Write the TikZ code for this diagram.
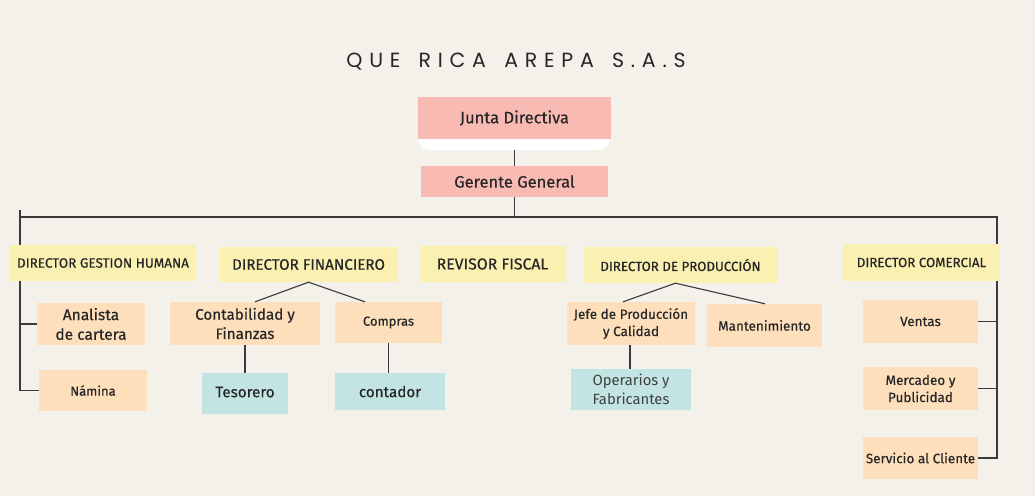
\documentclass[tikz,border=0pt]{standalone}
\usepackage{fontspec}
\setmainfont{Fira Sans}[FakeBold=0.4]
\newfontfamily\lightfont{Fira Sans}
\newfontfamily\titlefont[LetterSpace=33]{Poppins}
\usetikzlibrary{calc}
\definecolor{bg}{HTML}{F4F0EA}
\definecolor{pinkc}{HTML}{F9BAB4}
\definecolor{yelc}{HTML}{FAF0B2}
\definecolor{peachc}{HTML}{FDDFBC}
\definecolor{tealc}{HTML}{C2E5E3}
\definecolor{linec}{HTML}{3A3A3A}
\definecolor{txtc}{HTML}{262626}
\newcommand{\fsz}[1]{\fontsize{#1}{1.27\dimexpr #1pt\relax}\selectfont}
\begin{document}
\begin{tikzpicture}[x=1pt,y=-1pt,
  box/.style={inner sep=0pt, align=center, text=txtc},
  pinkbox/.style={box, fill=pinkc},
  yelbox/.style={box, fill=yelc},
  peachbox/.style={box, fill=peachc},
  tealbox/.style={box, fill=tealc},
  conn/.style={draw=linec, line width=1.1pt}]
\useasboundingbox[fill=bg] (0,0) rectangle (1035,496);

\node[text=txtc] (title) at (516,62) {\titlefont\fontsize{20.5}{21}\selectfont QUE\hspace{6pt} RICA\hspace{6pt} AREPA\hspace{6pt} S.A.S};

% white tab under Junta Directiva
\fill[white, rounded corners=12pt] (418,122) rectangle (610,150);
\node[pinkbox, minimum width=193pt, minimum height=42pt, font=\fsz{16.5}] (jd) at (514.5,118) {Junta Directiva};
\node[pinkbox, minimum width=187pt, minimum height=31pt, font=\fsz{16.5}] (gg) at (514.5,181.5) {Gerente General};

% directors
\node[yelbox, minimum width=186pt, minimum height=36pt, font=\fsz{13.5}] (dgh) at (103,263) {DIRECTOR GESTION HUMANA};
\node[yelbox, minimum width=177pt, minimum height=35pt, font=\fsz{15.2}] (df) at (308.5,264.5) {DIRECTOR FINANCIERO};
\node[yelbox, minimum width=145pt, minimum height=36pt, font=\fsz{15.8}] (rf) at (492.5,264) {REVISOR FISCAL};
\node[yelbox, minimum width=193pt, minimum height=36pt, font=\fsz{13.3}] (dp) at (680.5,265) {DIRECTOR DE PRODUCCIÓN};
\node[yelbox, minimum width=157pt, minimum height=37pt, font=\fsz{13.3}] (dc) at (921.5,262.5) {DIRECTOR COMERCIAL};

% second level
\node[peachbox, minimum width=108pt, minimum height=42pt, font=\fsz{15.5}] (ac) at (91,324) {Analista\\de cartera};
\node[peachbox, minimum width=108pt, minimum height=41pt, font=\fsz{13}] (nam) at (93,390.5) {Námina};
\node[peachbox, minimum width=150pt, minimum height=43pt, font=\fsz{15.2}] (cf) at (245,323.5) {Contabilidad y\\Finanzas};
\node[peachbox, minimum width=107pt, minimum height=41pt, font=\fsz{13}] (comp) at (388.5,322.5) {Compras};
\node[tealbox, minimum width=86pt, minimum height=41pt, font=\fsz{15.2}] (tes) at (245,393.5) {\raisebox{3pt}{Tesorero}};
\node[tealbox, minimum width=110pt, minimum height=37pt, font=\fsz{15.2}] (cont) at (390,391.5) {contador};
\node[peachbox, minimum width=128pt, minimum height=43pt, font=\fsz{13.5}] (jpc) at (631,323.5) {Jefe de Producción\\y Calidad};
\node[peachbox, minimum width=115pt, minimum height=43pt, font=\fsz{13.5}] (mant) at (764.5,325.5) {Mantenimiento};
\node[tealbox, minimum width=120pt, minimum height=41pt, font=\lightfont\fsz{14.8}, text=black!75] (op) at (631,389.5) {Operarios y\\Fabricantes};
\node[peachbox, minimum width=115pt, minimum height=43pt, font=\fsz{13.5}] (ven) at (920.5,321.5) {Ventas};
\node[peachbox, minimum width=115pt, minimum height=43pt, font=\fsz{13.5}] (mp) at (920.5,388.5) {Mercadeo y\\Publicidad};
\node[peachbox, minimum width=115pt, minimum height=42pt, font=\fsz{13.5}] (sc) at (920.5,458) {Servicio al Cliente};

% connectors
\coordinate (busL) at (20,210);
\coordinate (busR) at (997,217);
\draw[conn] ($(jd.south)+(0,11)$) -- (gg.north);
\draw[conn] (gg.south) -- (gg.south |- busR);
\draw[conn] (busL) -- (busL |- dgh.north);
\draw[conn] (busL |- busR) -- (busR) -- (busR |- dc.north);

\draw[conn] (busL |- dgh.south) -- (busL |- nam.west) -- (nam.west);
\draw[conn] (busL |- ac.west) -- (ac.west);

\draw[conn] ($(cf.north)+(10,0)$) -- (df.south) -- ($(comp.north)+(-23.5,0)$);
\draw[conn] (cf.south) -- (cf.south |- tes.north);
\draw[conn] (comp.south) -- (comp.south |- cont.north);

\draw[conn] ($(jpc.north)+(-8,0)$) -- ($(dp.south)+(-5,0)$) -- ($(mant.north)+(0.5,0)$);
\draw[conn] ($(jpc.south)+(-1,0)$) -- ($(jpc.south |- op.north)+(-1,0)$);

\draw[conn] (busR |- dc.south) -- (busR |- sc.east) -- (sc.east);
\draw[conn] (ven.east) -- (busR |- ven.east);
\draw[conn] (mp.east) -- (busR |- mp.east);
\end{tikzpicture}
\end{document}
